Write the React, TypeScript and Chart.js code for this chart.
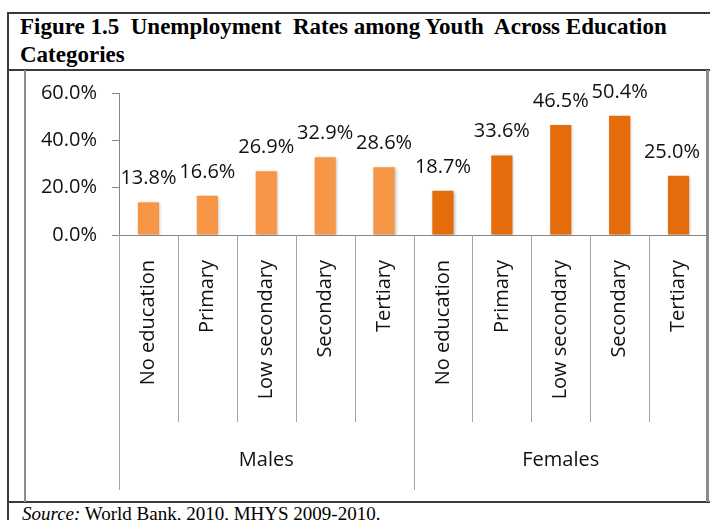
import React, { useEffect, useRef } from "react";
import { Chart, registerables } from "chart.js";

Chart.register(...registerables);

const educationCategories = ["No education", "Primary", "Low secondary", "Secondary", "Tertiary"];
const groups = ["Males", "Females"];
const malesValues = [13.8, 16.6, 26.9, 32.9, 28.6];
const femalesValues = [18.7, 33.6, 46.5, 50.4, 25.0];
const yTicks = [0, 20, 40, 60];

const MALE_COLOR = "#F79646";
const FEMALE_COLOR = "#E46C0A";
const FONT = "'Open Sans', sans-serif";

export default function App() {
  const canvasRef = useRef<HTMLCanvasElement | null>(null);

  useEffect(() => {
    if (!canvasRef.current) return;
    const labels = [...educationCategories, ...educationCategories];
    const values = [...malesValues, ...femalesValues];
    const colors = [
      ...malesValues.map(() => MALE_COLOR),
      ...femalesValues.map(() => FEMALE_COLOR),
    ];

    const decorPlugin = {
      id: "decor",
      beforeDatasetsDraw(chart: any) {
        const ctx = chart.ctx;
        ctx.save();
        ctx.shadowColor = "rgba(0,0,0,0.28)";
        ctx.shadowBlur = 3;
        ctx.shadowOffsetX = 1;
        ctx.shadowOffsetY = 1;
      },
      afterDatasetsDraw(chart: any) {
        const ctx = chart.ctx;
        ctx.restore();
        const meta = chart.getDatasetMeta(0);
        ctx.save();
        ctx.font = `20px ${FONT}`;
        ctx.fillStyle = "#111";
        ctx.textAlign = "center";
        ctx.textBaseline = "alphabetic";
        const rightLimit = chart.width - 10;
        meta.data.forEach((bar: any, i: number) => {
          const txt = values[i].toFixed(1) + "%";
          const half = ctx.measureText(txt).width / 2;
          const x = Math.min(bar.x, rightLimit - half);
          ctx.fillText(txt, x, bar.y - 18);
        });
        ctx.restore();
      },
      afterDraw(chart: any) {
        const ctx = chart.ctx;
        const xs = chart.scales.x;
        const bottom = chart.chartArea.bottom;
        const n = labels.length;
        const boundary = (i: number) => {
          if (i <= 0) return xs.left;
          if (i >= n) return xs.right;
          return (xs.getPixelForValue(i - 1) + xs.getPixelForValue(i)) / 2;
        };
        ctx.save();
        ctx.strokeStyle = "#a6a6a6";
        ctx.lineWidth = 1;
        const per = educationCategories.length;
        for (let i = 0; i < n; i++) {
          const x = Math.round(boundary(i)) + 0.5;
          const long = i % per === 0;
          ctx.beginPath();
          ctx.moveTo(x, bottom);
          ctx.lineTo(x, long ? bottom + 255 : bottom + 187);
          ctx.stroke();
        }
        ctx.font = `20px ${FONT}`;
        ctx.fillStyle = "#111";
        ctx.textAlign = "center";
        ctx.textBaseline = "middle";
        groups.forEach((g, gi) => {
          const cx = (boundary(gi * per) + boundary((gi + 1) * per)) / 2;
          ctx.fillText(g, cx, bottom + 225);
        });
        ctx.restore();
      },
    };

    const chart = new Chart(canvasRef.current, {
      type: "bar",
      data: {
        labels,
        datasets: [
          {
            data: values,
            backgroundColor: colors,
            borderWidth: 0,
            barPercentage: 0.36,
            categoryPercentage: 1,
          },
        ],
      },
      options: {
        animation: false,
        responsive: false,
        maintainAspectRatio: false,
        layout: { padding: { left: 0, top: 93, right: 2, bottom: 18 } },
        plugins: { legend: { display: false }, tooltip: { enabled: false } },
        scales: {
          x: {
            grid: { display: false, drawTicks: false },
            border: { display: true, color: "#868686", width: 1 },
            ticks: {
              autoSkip: false,
              minRotation: 90,
              maxRotation: 90,
              padding: 25,
              color: "#111",
              font: { family: FONT, size: 20 },
            },
            afterFit(scale: any) {
              scale.height = 267;
              scale.paddingLeft = 0;
              scale.paddingRight = 0;
            },
          },
          y: {
            min: 0,
            max: 60,
            afterBuildTicks(scale: any) {
              scale.ticks = yTicks.map((v) => ({ value: v }));
            },
            grid: { drawOnChartArea: false, tickLength: 7, color: "#868686" },
            border: { display: true, color: "#868686", width: 1 },
            ticks: {
              padding: 15,
              color: "#111",
              font: { family: FONT, size: 20 },
              callback: (v: any) => Number(v).toFixed(1) + "%",
            },
            afterFit(scale: any) {
              scale.width = 119;
              scale.paddingTop = 0;
              scale.paddingBottom = 0;
            },
          },
        },
      },
      plugins: [decorPlugin],
    });
    return () => chart.destroy();
  }, []);

  const line = (style: React.CSSProperties) => (
    <div style={{ position: "absolute", ...style }} />
  );

  return (
    <div
      style={{
        position: "absolute",
        left: 0,
        top: 0,
        width: 710,
        height: 520,
        overflow: "hidden",
        background: "#fff",
      }}
    >
      {line({ left: 7, top: 12, width: 703, height: 2, background: "#3a3a3a" })}
      {line({ left: 7, top: 12, width: 2, height: 508, background: "#3a3a3a" })}
      {line({ left: 7, top: 69, width: 703, height: 2, background: "#3a3a3a" })}
      {line({ left: 7, top: 501, width: 703, height: 2, background: "#3a3a3a" })}
      {line({ left: 24, top: 70, width: 2, height: 432, background: "#8c8c8c" })}
      {line({ left: 706, top: 70, width: 3, height: 432, background: "#8c8c8c" })}
      <div
        style={{
          position: "absolute",
          left: 20,
          top: 13,
          font: "bold 23px 'Liberation Serif', serif",
          lineHeight: "28px",
          whiteSpace: "pre",
          color: "#000",
        }}
      >
        {"Figure 1.5  Unemployment  Rates among Youth  Across Education\nCategories"}
      </div>
      <div
        style={{
          position: "absolute",
          left: 22,
          top: 503,
          font: "19px 'Liberation Serif', serif",
          lineHeight: "22px",
          whiteSpace: "pre",
          color: "#000",
        }}
      >
        <i>Source:</i>
        {" World Bank, 2010, MHYS 2009-2010."}
      </div>
      <canvas
        ref={canvasRef}
        width={710}
        height={520}
        style={{ position: "absolute", left: 0, top: 0 }}
      />
    </div>
  );
}
